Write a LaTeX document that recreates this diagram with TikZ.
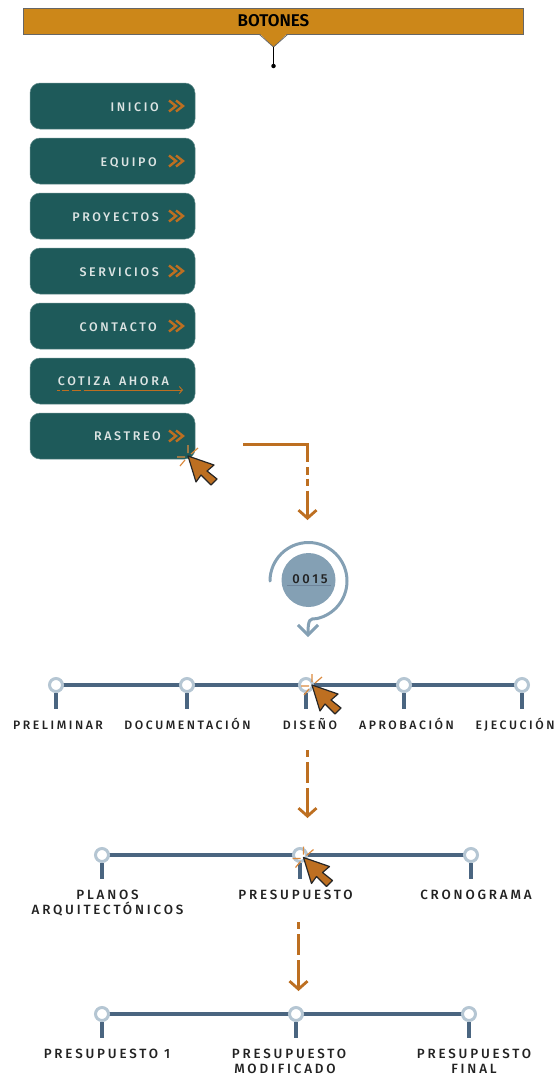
\documentclass[tikz,border=0pt]{standalone}
\usepackage{fontspec}
\setmainfont{Fira Sans}
\newfontfamily\dinwide[LetterSpace=21]{Fira Sans Medium}
\newfontfamily\dinbold[LetterSpace=0]{Fira Sans SemiBold}
\usetikzlibrary{arrows.meta,calc}
\definecolor{gold}{HTML}{CC8719}
\definecolor{teal}{HTML}{1E5A5A}
\definecolor{rust}{HTML}{BD6F21}
\definecolor{spark}{HTML}{DB8A3E}
\definecolor{steel}{HTML}{4A6580}
\definecolor{ringc}{HTML}{B5C6D3}
\definecolor{mist}{HTML}{84A0B4}
\definecolor{ink}{HTML}{222222}
\definecolor{pale}{HTML}{DCE4E3}
\tikzset{
 btn/.style={draw=teal!70,line width=.5pt,fill=teal,rounded corners=10pt,minimum width=165pt,minimum height=46pt,inner sep=0pt},
 btntxt/.style={font=\dinwide\fontsize{12.5}{14}\selectfont,text=pale,anchor=base east,inner sep=0pt},
 lab/.style={font=\dinwide\fontsize{13.4}{15}\selectfont,text=ink,anchor=base,inner sep=0pt},
 labsmall/.style={lab,font=\dinwide\fontsize{12.2}{15}\selectfont},
 rustarrow/.style={draw=rust,line width=2.8pt,-{Straight Barb[length=8pt,width=18pt]}},
 bar/.style={draw=steel,line width=3.6pt},
 stop/.style={circle,draw=ringc,line width=3pt,fill=white,minimum size=13pt,inner sep=0pt},
 cursor/.pic={
  \path[draw=spark,line width=1.2pt]
    (0,-11)--(0,-3) (10,-8)--(3,-2) (-11,1)--(-3,1) (-8,10)--(-3,4);
  \path[fill=rust,draw=black!85,line width=1.2pt,line join=round]
    (0,0)--(26,9)--(19,15)--(29,23)--(23,29)--(13,19)--(8,26)--cycle;
 },
 chev/.pic={
  \path[draw=rust,line width=2.4pt]
    (-7,-5.5)--(0,0)--(-7,5.5) (0,-5.5)--(7,0)--(0,5.5);
 }
}
\newcommand{\stopat}[3]{% name, x, y
  \node[stop] (#1) at (#2,#3) {};
  \coordinate (#1s) at (#2,#3+24);
  \draw[bar] (#1.south) -- (#1s);
}
\begin{document}
\begin{tikzpicture}[x=1pt,y=-1pt]
\useasboundingbox (0,0) rectangle (557,1076);
% header
\node[draw=black!60,line width=.8pt,fill=gold,minimum width=500pt,minimum height=26pt,inner sep=0pt] (hdr) at (273.5,21) {};
\path[fill=gold,draw=none] (259.5,33.5)--(287.5,33.5)--(273.5,47)--cycle;
\draw[black!60,line width=.8pt] (259.5,34.5)--(273.5,47)--(287.5,34.5);
\node[font=\dinbold\fontsize{17}{20}\selectfont,text=black,inner sep=0pt,anchor=base] (hdrtxt) at (273.5,27) {BOTONES};
\coordinate (hdrtip) at (273.5,47);
\node[circle,fill=black,minimum size=4.5pt,inner sep=0pt] (hdrdot) at (273.5,66) {};
\draw[black,line width=.7pt] (hdrtip) -- (hdrdot);
% buttons
\node[btn] (b1) at (112.5,106) {};
\node[btn] (b2) at (112.5,161) {};
\node[btn] (b3) at (112.5,216) {};
\node[btn] (b4) at (112.5,271) {};
\node[btn] (b5) at (112.5,326) {};
\node[btn] (b6) at (112.5,381) {};
\node[btn] (b7) at (112.5,436) {};
\node[btntxt] (t1) at (159,111) {INICIO};
\node[btntxt] (t2) at (157,166) {EQUIPO};
\node[btntxt] (t3) at (159,221) {PROYECTOS};
\node[btntxt] (t4) at (159,276) {SERVICIOS};
\node[btntxt] (t5) at (157,331) {CONTACTO};
\node[btntxt] (t6) at (169,385) {COTIZA\hspace{3pt} AHORA};
\node[btntxt] (t7) at (161,440.5) {RASTREO};
\pic at (176,106) {chev};
\pic at (176,161) {chev};
\pic at (176,216) {chev};
\pic at (176,271) {chev};
\pic at (176,326) {chev};
\pic at (176,436) {chev};
\coordinate (ulS) at (57,390);
\coordinate (ulE) at (183,390);
\draw[draw=rust,line width=1pt,dash pattern=on 3pt off 2pt on 7pt off 3pt on 9pt off 2.5pt on 100pt,-{Straight Barb[length=3pt,width=7pt]}] (ulS) -- (ulE);
\pic at (188,456) {cursor};
% arrow 1
\coordinate (a1s) at (243,444.5);
\coordinate (a1c) at (307.5,444.5);
\coordinate (a1e) at (307.5,520);
\draw[rustarrow,dash pattern=on 82pt off 5pt on 8pt off 3.5pt on 7pt off 5pt on 40pt] (a1s) -- (a1c) -- (a1e);
% counter
\node[circle,fill=mist,minimum size=54pt,inner sep=0pt] (cnt) at (308.5,580) {};
\node[font=\dinwide\fontsize{13}{15}\selectfont,text=ink,inner sep=0pt,anchor=base] (cnttxt) at (310,583) {0015};
\draw[steel!80,line width=.8pt] (287,585.5) -- (331,585.5);
\coordinate (arcS) at (270,581);
\coordinate (arcE) at (308,637);
\draw[mist,line width=3pt,line cap=round,-{Straight Barb[length=10pt,width=20pt]}]
  (arcS) arc[start angle=180,end angle=-78,radius=38.5pt] .. controls (310,618.5) and (308,619) .. (arcE);
% timeline 1
\draw[bar] (56,685) -- (522,685);
\stopat{s1}{56}{685}
\stopat{s2}{187}{685}
\stopat{s3}{306}{685}
\stopat{s4}{404}{685}
\stopat{s5}{522}{685}
\node[labsmall] (l1) at (58,729) {PRELIMINAR};
\node[labsmall] (l2) at (187.5,729) {DOCUMENTACIÓN};
\node[labsmall] (l3) at (310,729) {DISEÑO};
\node[labsmall] (l4) at (406.5,729) {APROBACIÓN};
\node[labsmall] (l5) at (515,729) {EJECUCIÓN};
\pic at (312,685) {cursor};
% arrow 2
\coordinate (a2s) at (307.5,750);
\coordinate (a2e) at (307.5,818);
\draw[rustarrow,dash pattern=on 7pt off 5pt on 21pt off 5pt on 40pt] (a2s) -- (a2e);
% timeline 2
\draw[bar] (102,855) -- (471,855);
\stopat{m1}{102}{855}
\stopat{m2}{300}{855}
\stopat{m3}{471}{855}
\node[lab] (n1) at (107.5,899.5) {PLANOS};
\node[lab] (n1b) at (107.5,914.5) {ARQUITECTÓNICOS};
\node[lab] (n2) at (295.5,899.5) {PRESUPUESTO};
\node[lab] (n3) at (476,899.5) {CRONOGRAMA};
\pic at (303.5,857.5) {cursor};
% arrow 3
\coordinate (a3s) at (298.5,922);
\coordinate (a3e) at (298.5,991);
\draw[rustarrow,dash pattern=on 7pt off 5pt on 21pt off 5pt on 40pt] (a3s) -- (a3e);
% timeline 3
\draw[bar] (102,1014) -- (469,1014);
\stopat{p1}{102}{1014}
\stopat{p2}{296}{1014}
\stopat{p3}{469}{1014}
\node[lab] (q1) at (107,1058) {PRESUPUESTO 1};
\node[lab] (q2) at (289,1058) {PRESUPUESTO};
\node[lab] (q2b) at (285,1073) {MODIFICADO};
\node[lab] (q3) at (474,1058) {PRESUPUESTO};
\node[lab] (q3b) at (474,1073) {FINAL};
\end{tikzpicture}
\end{document}
